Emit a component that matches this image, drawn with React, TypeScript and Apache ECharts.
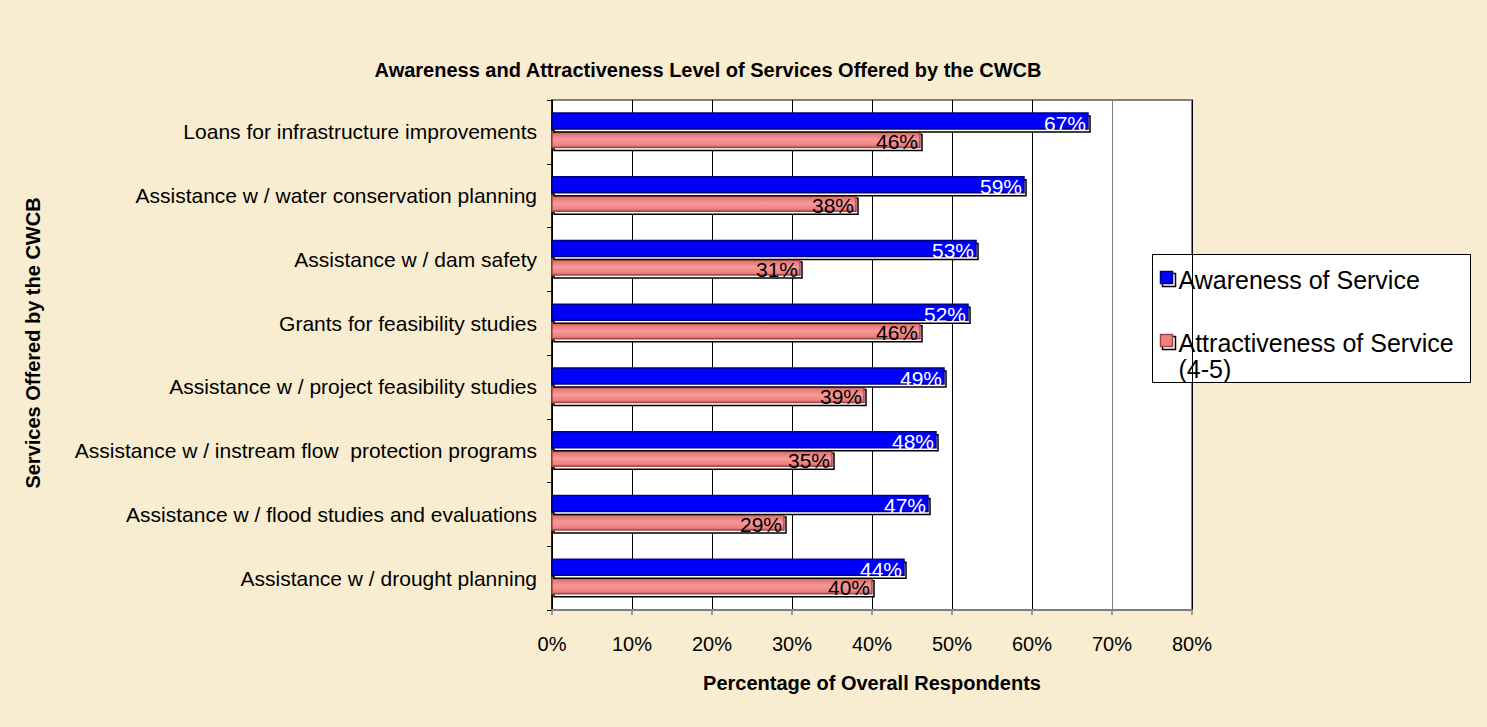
import React, { useEffect, useRef } from "react";
import * as echarts from "echarts";

const categories = [
  "Loans for infrastructure improvements",
  "Assistance w / water conservation planning",
  "Assistance w / dam safety",
  "Grants for feasibility studies",
  "Assistance w / project feasibility studies",
  "Assistance w / instream flow  protection programs",
  "Assistance w / flood studies and evaluations",
  "Assistance w / drought planning",
];
const awareness = [67, 59, 53, 52, 49, 48, 47, 44];
const attractiveness = [46, 38, 31, 46, 39, 35, 29, 40];
const seriesNames = ["Awareness of Service", "Attractiveness of Service (4-5)"];
const xTicks = [0, 10, 20, 30, 40, 50, 60, 70, 80];

const FONT = "'Liberation Sans', Arial, Helvetica, sans-serif";

const redFill = new echarts.graphic.LinearGradient(0, 0, 0, 1, [
  { offset: 0, color: "#A84848" },
  { offset: 0.15, color: "#E47474" },
  { offset: 0.5, color: "#F59A9A" },
  { offset: 0.85, color: "#F08080" },
  { offset: 1, color: "#C06666" },
]);

function makeRender(offsetFrac: number, fill: any, stroke: string, labelColor: string) {
  return (params: any, api: any) => {
    const v = api.value(0);
    const c = api.value(1);
    const start = api.coord([0, c]);
    const end = api.coord([v, c]);
    const band = api.size([0, 1])[1];
    const h = band * 0.25;
    const cy = start[1] + offsetFrac * band;
    const y = cy - h / 2;
    const w = end[0] - start[0];
    return {
      type: "group",
      children: [
        {
          type: "rect",
          shape: { x: start[0] + 2, y: y + 3, width: w, height: h },
          style: { fill: "#fff", stroke: "#000", lineWidth: 1.5 },
        },
        {
          type: "rect",
          shape: { x: start[0], y: y, width: w, height: h },
          style: { fill: fill, stroke: stroke, lineWidth: 1.5 },
        },
        {
          type: "text",
          style: {
            text: v + "%",
            x: end[0] - 2,
            y: cy + 2,
            align: "right",
            verticalAlign: "middle",
            fill: labelColor,
            fontSize: 21,
            fontFamily: FONT,
          },
        },
      ],
    };
  };
}

export default function App() {
  const ref = useRef<HTMLDivElement>(null);
  useEffect(() => {
    if (!ref.current) return;
    const chart = echarts.init(ref.current, null, { renderer: "svg" });
    const gridColors = xTicks.map((t) => (t === 70 ? "#808080" : "#000000"));
    const option: any = {
      animation: false,
      backgroundColor: "#F8EDD0",
      title: {
        text: "Awareness and Attractiveness Level of Services Offered by the CWCB",
        left: 703,
        top: 55,
        textAlign: "center",
        textStyle: { fontSize: 20, fontWeight: "bold", color: "#000", fontFamily: FONT },
      },
      grid: {
        left: 552,
        right: 1487 - 1192,
        top: 100,
        bottom: 727 - 610,
        show: true,
        backgroundColor: "#ffffff",
        borderColor: "#808080",
        borderWidth: 2,
      },
      xAxis: {
        type: "value",
        min: 0,
        max: 80,
        interval: 10,
        name: "Percentage of Overall Respondents",
        nameLocation: "middle",
        nameGap: 63,
        nameTextStyle: { fontSize: 20, fontWeight: "bold", color: "#000", fontFamily: FONT },
        axisLine: { show: true, lineStyle: { color: "#808080", width: 2 } },
        axisTick: { show: true, length: 5, lineStyle: { color: "#808080", width: 1.5 } },
        axisLabel: { formatter: "{value}%", color: "#000", fontSize: 20, margin: 24, fontFamily: FONT },
        splitLine: { show: true, lineStyle: { color: gridColors, width: 1 } },
      },
      yAxis: {
        type: "category",
        data: categories,
        inverse: true,
        name: "Services Offered by the CWCB",
        nameLocation: "middle",
        nameGap: 509,
        nameTextStyle: { fontSize: 20, fontWeight: "bold", color: "#000", fontFamily: FONT, padding: [0, 0, 0, 24] },
        axisLine: { show: true, lineStyle: { color: "#000", width: 1.5 } },
        axisTick: { show: true, length: 5, lineStyle: { color: "#000", width: 1 } },
        axisLabel: { color: "#000", fontSize: 21, margin: 15, fontFamily: FONT },
        splitLine: { show: false },
      },
      series: [
        {
          name: seriesNames[0],
          type: "custom",
          encode: { x: 0, y: 1 },
          data: awareness.map((v, i) => [v, i]),
          renderItem: makeRender(-0.17, "#0000FF", "#000080", "#ffffff"),
          z: 3,
        },
        {
          name: seriesNames[1],
          type: "custom",
          encode: { x: 0, y: 1 },
          data: attractiveness.map((v, i) => [v, i]),
          renderItem: makeRender(0.12, redFill, "#A04848", "#000000"),
          z: 2,
        },
      ],
      graphic: [
        {
          type: "group",
          left: 1152,
          top: 254,
          children: [
            {
              type: "rect",
              shape: { x: 0, y: 0, width: 318, height: 128 },
              style: { fill: "#fff", stroke: "#000", lineWidth: 1 },
            },
            { type: "rect", shape: { x: 10, y: 19, width: 13, height: 13 }, style: { fill: "#fff", stroke: "#000", lineWidth: 1.5 } },
            { type: "rect", shape: { x: 8, y: 17, width: 12, height: 12 }, style: { fill: "#0000FF", stroke: "#000080", lineWidth: 1.5 } },
            {
              type: "text",
              style: { text: "Awareness of Service", x: 26, y: 25, verticalAlign: "middle", fontSize: 25, fontFamily: FONT, fill: "#000" },
            },
            { type: "rect", shape: { x: 10, y: 82, width: 13, height: 13 }, style: { fill: "#fff", stroke: "#000", lineWidth: 1.5 } },
            { type: "rect", shape: { x: 8, y: 80, width: 12, height: 12 }, style: { fill: "#F08080", stroke: "#A04848", lineWidth: 1.5 } },
            {
              type: "text",
              style: { text: "Attractiveness of Service", x: 26, y: 88, verticalAlign: "middle", fontSize: 25, fontFamily: FONT, fill: "#000" },
            },
            {
              type: "text",
              style: { text: "(4-5)", x: 26, y: 114, verticalAlign: "middle", fontSize: 25, fontFamily: FONT, fill: "#000" },
            },
          ],
        },
      ],
    };
    chart.setOption(option);
    return () => chart.dispose();
  }, []);
  return (
    <div
      ref={ref}
      style={{ position: "fixed", left: 0, top: 0, width: 1487, height: 727 }}
    />
  );
}
